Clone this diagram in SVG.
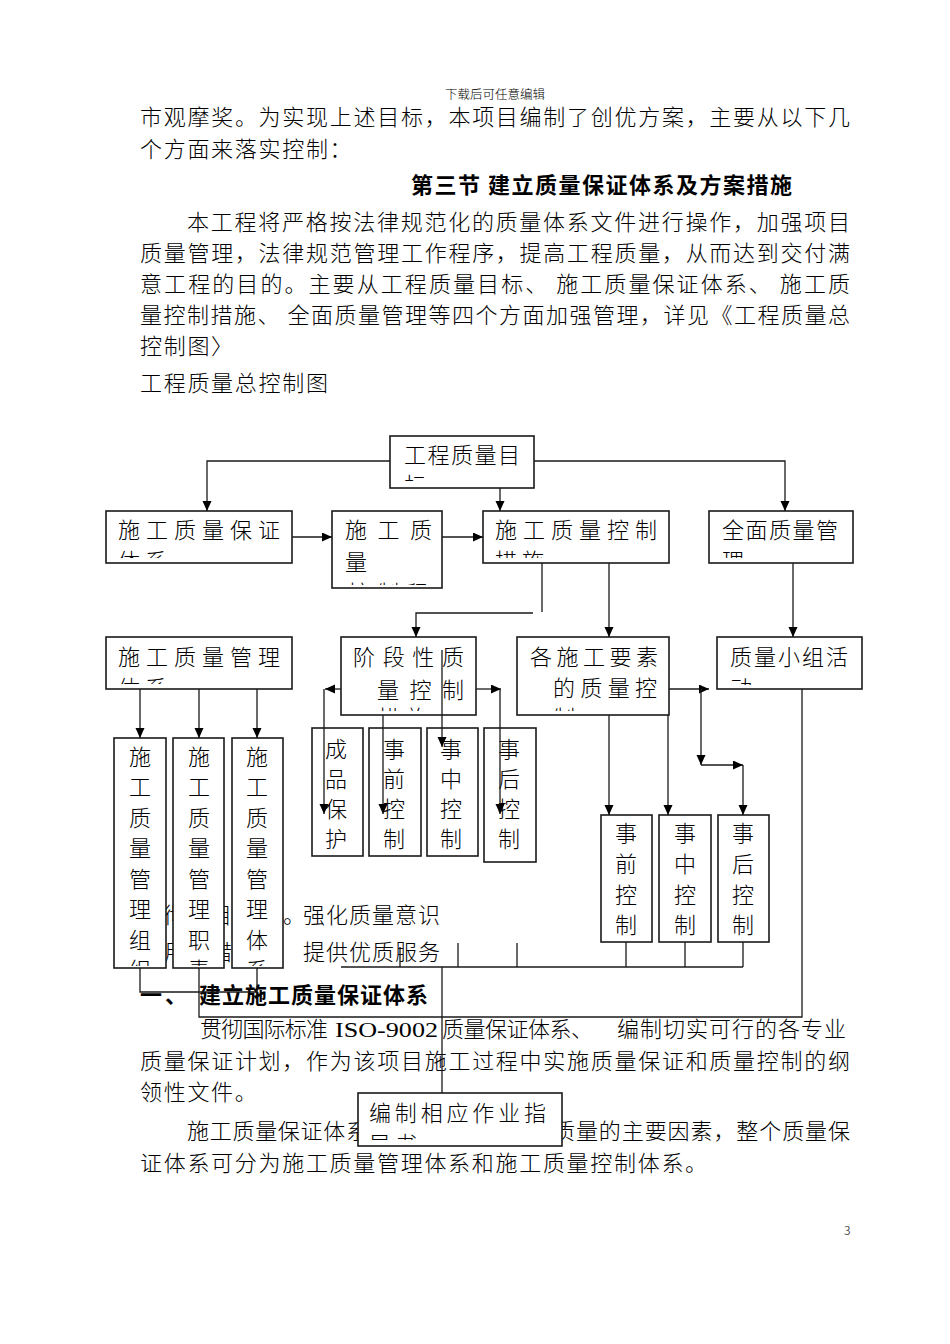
<svg xmlns="http://www.w3.org/2000/svg" width="950" height="1344" viewBox="0 0 950 1344">
<style>
.t{font-family:'Noto Sans CJK SC','Noto Sans CJK JP',sans-serif;font-size:22px;font-weight:300;fill:#000}
.b{font-weight:bold}
.ls{letter-spacing:1.7px}
.sm{font-size:12px}
.box{fill:#fff;stroke:#1a1a1a;stroke-width:1.6}
.ln{fill:none;stroke:#1a1a1a;stroke-width:1.3}
.ar{marker-end:url(#ah)}
.v{text-anchor:middle}
</style>
<defs>
<marker id="ah" markerUnits="userSpaceOnUse" markerWidth="11" markerHeight="10" refX="10" refY="4.5" orient="auto">
<path d="M0,0 L10,4.5 L0,9 z" fill="#000"/>
</marker>
<clipPath id="c_goal"><rect x="390" y="436" width="144" height="45"/></clipPath>
<clipPath id="c_guar"><rect x="106" y="511" width="186" height="47"/></clipPath>
<clipPath id="c_prog"><rect x="332" y="511" width="110" height="74"/></clipPath>
<clipPath id="c_ctrl"><rect x="483" y="511" width="186" height="47"/></clipPath>
<clipPath id="c_all"><rect x="709" y="511" width="144" height="47"/></clipPath>
<clipPath id="c_mgmt"><rect x="106" y="637" width="186" height="47"/></clipPath>
<clipPath id="c_stage"><rect x="341" y="637" width="135" height="74"/></clipPath>
<clipPath id="c_elem"><rect x="517" y="637" width="152" height="74"/></clipPath>
<clipPath id="c_qc"><rect x="717" y="637" width="145" height="48"/></clipPath>
<clipPath id="c_tall"><rect x="110" y="738" width="180" height="228"/></clipPath>
<clipPath id="c_guide"><rect x="358" y="1093" width="204" height="47"/></clipPath>
</defs>
<rect width="950" height="1344" fill="#fff"/>

<g id="page-text">
<text class="t sm" x="445" y="99" textLength="100" lengthAdjust="spacingAndGlyphs">下载后可任意编辑</text>
<text class="t" x="140" y="125" textLength="710" lengthAdjust="spacing">市观摩奖。为实现上述目标，本项目编制了创优方案，主要从以下几</text>
<text class="t ls" x="140" y="157">个方面来落实控制：</text>
<text class="t b" x="411" y="193" textLength="381" lengthAdjust="spacing">第三节 建立质量保证体系及方案措施</text>
<text class="t" x="187" y="230" textLength="663" lengthAdjust="spacing">本工程将严格按法律规范化的质量体系文件进行操作，加强项目</text>
<text class="t" x="140" y="261" textLength="710" lengthAdjust="spacing">质量管理，法律规范管理工作程序，提高工程质量，从而达到交付满</text>
<text class="t" x="140" y="292" textLength="710" lengthAdjust="spacing">意工程的目的。主要从工程质量目标、 施工质量保证体系、 施工质</text>
<text class="t" x="140" y="323" textLength="710" lengthAdjust="spacing">量控制措施、 全面质量管理等四个方面加强管理，详见《工程质量总</text>
<text class="t ls" x="140" y="354">控制图〉</text>
<text class="t ls" x="140" y="391">工程质量总控制图</text>
<text class="t" y="923"><tspan x="164">彻</tspan><tspan x="210">目</tspan><tspan x="283">。</tspan><tspan x="303" textLength="137" lengthAdjust="spacing">强化质量意识</tspan></text>
<text class="t" y="960"><tspan x="164">用</tspan><tspan x="210">措</tspan><tspan x="303" textLength="137" lengthAdjust="spacing">提供优质服务</tspan></text>
<text class="t b" x="140" y="1003" letter-spacing="3">一、</text>
<text class="t b" x="199" y="1003" textLength="229" lengthAdjust="spacing">建立施工质量保证体系</text>
<text class="t" y="1037"><tspan x="200" textLength="128" lengthAdjust="spacing">贯彻国际标准</tspan><tspan x="335" font-family="'Liberation Serif',serif" textLength="103" lengthAdjust="spacingAndGlyphs">ISO-9002</tspan><tspan x="442" textLength="151" lengthAdjust="spacing">质量保证体系、</tspan><tspan x="617" textLength="229" lengthAdjust="spacing">编制切实可行的各专业</tspan></text>
<text class="t" x="140" y="1069" textLength="710" lengthAdjust="spacing">质量保证计划，作为该项目施工过程中实施质量保证和质量控制的纲</text>
<text class="t ls" x="140" y="1100">领性文件。</text>
<text class="t" y="1139"><tspan x="187" textLength="181" lengthAdjust="spacing">施工质量保证体系</tspan><tspan x="553" textLength="297" lengthAdjust="spacing">质量的主要因素，整个质量保</tspan></text>
<text class="t ls" x="140" y="1171">证体系可分为施工质量管理体系和施工质量控制体系。</text>
<text class="t sm" x="844" y="1235" font-family="'Liberation Sans',sans-serif">3</text>
</g>

<g id="node-goal">
<rect class="box" x="390" y="436" width="144" height="52"/>
<text class="t" x="404" y="463" textLength="116" lengthAdjust="spacing">工程质量目</text>
<text class="t" x="404" y="493" clip-path="url(#c_goal)">标</text>
</g>
<g id="node-guarantee">
<rect class="box" x="106" y="511" width="186" height="52"/>
<text class="t" x="118" y="538" textLength="162" lengthAdjust="spacing">施工质量保证</text>
<text class="t" x="118" y="569" letter-spacing="5" clip-path="url(#c_guar)">体系</text>
</g>
<g id="node-procedure">
<rect class="box" x="332" y="511" width="110" height="77"/>
<text class="t" x="345" y="538" textLength="87" lengthAdjust="spacing">施工质</text>
<text class="t" x="345" y="570">量</text>
<text class="t" x="348" y="601" textLength="80" lengthAdjust="spacing" clip-path="url(#c_prog)">控制程</text>
</g>
<g id="node-control">
<rect class="box" x="483" y="511" width="186" height="52"/>
<text class="t" x="495" y="538" textLength="162" lengthAdjust="spacing">施工质量控制</text>
<text class="t" x="495" y="569" letter-spacing="5" clip-path="url(#c_ctrl)">措施</text>
</g>
<g id="node-total">
<rect class="box" x="709" y="511" width="144" height="52"/>
<text class="t" x="722" y="538" textLength="116" lengthAdjust="spacing">全面质量管</text>
<text class="t" x="722" y="569" clip-path="url(#c_all)">理</text>
</g>
<g id="node-management">
<rect class="box" x="106" y="637" width="186" height="52"/>
<text class="t" x="118" y="665" textLength="162" lengthAdjust="spacing">施工质量管理</text>
<text class="t" x="118" y="696" letter-spacing="5" clip-path="url(#c_mgmt)">体系</text>
</g>
<g id="node-stage">
<rect class="box" x="341" y="637" width="135" height="78"/>
<text class="t" x="353" y="665" textLength="111" lengthAdjust="spacing">阶段性质</text>
<text class="t" x="377" y="698" textLength="87" lengthAdjust="spacing">量控制</text>
<text class="t" x="378" y="726" letter-spacing="6" clip-path="url(#c_stage)">措施</text>
</g>
<g id="node-elements">
<rect class="box" x="517" y="637" width="152" height="78"/>
<text class="t" x="530" y="665" textLength="128" lengthAdjust="spacing">各施工要素</text>
<text class="t" x="553" y="696" textLength="104" lengthAdjust="spacing">的质量控</text>
<text class="t" x="553" y="726" clip-path="url(#c_elem)">制</text>
</g>
<g id="node-qc">
<rect class="box" x="717" y="637" width="145" height="52"/>
<text class="t" x="730" y="665" textLength="118" lengthAdjust="spacing">质量小组活</text>
<text class="t" x="730" y="696" clip-path="url(#c_qc)">动</text>
</g>

<g id="node-org">
<rect class="box" x="114" y="738" width="52" height="230"/>
<g clip-path="url(#c_tall)"><text class="t v" x="140" y="765">施</text><text class="t v" x="140" y="795">工</text><text class="t v" x="140" y="826">质</text><text class="t v" x="140" y="856">量</text><text class="t v" x="140" y="887">管</text><text class="t v" x="140" y="917">理</text><text class="t v" x="140" y="948">组</text><text class="t v" x="140" y="978">织</text></g>
</g>
<g id="node-duty">
<rect class="box" x="173" y="738" width="51" height="230"/>
<g clip-path="url(#c_tall)"><text class="t v" x="199" y="765">施</text><text class="t v" x="199" y="795">工</text><text class="t v" x="199" y="826">质</text><text class="t v" x="199" y="856">量</text><text class="t v" x="199" y="887">管</text><text class="t v" x="199" y="917">理</text><text class="t v" x="199" y="948">职</text><text class="t v" x="199" y="978">责</text></g>
</g>
<g id="node-system">
<rect class="box" x="232" y="738" width="51" height="230"/>
<g clip-path="url(#c_tall)"><text class="t v" x="257" y="765">施</text><text class="t v" x="257" y="795">工</text><text class="t v" x="257" y="826">质</text><text class="t v" x="257" y="856">量</text><text class="t v" x="257" y="887">管</text><text class="t v" x="257" y="917">理</text><text class="t v" x="257" y="948">体</text><text class="t v" x="257" y="978">系</text></g>
</g>

<g id="node-protect">
<rect class="box" x="312" y="728" width="51" height="128"/>
<text class="t v" x="336" y="757">成</text><text class="t v" x="336" y="787">品</text><text class="t v" x="336" y="817">保</text><text class="t v" x="336" y="847">护</text>
</g>
<g id="node-stage-pre">
<rect class="box" x="369" y="728" width="52" height="128"/>
<text class="t v" x="394" y="757">事</text><text class="t v" x="394" y="787">前</text><text class="t v" x="394" y="817">控</text><text class="t v" x="394" y="847">制</text>
</g>
<g id="node-stage-mid">
<rect class="box" x="427" y="728" width="51" height="128"/>
<text class="t v" x="451" y="757">事</text><text class="t v" x="451" y="787">中</text><text class="t v" x="451" y="817">控</text><text class="t v" x="451" y="847">制</text>
</g>
<g id="node-stage-post">
<rect class="box" x="484" y="728" width="52" height="134"/>
<text class="t v" x="509" y="757">事</text><text class="t v" x="509" y="787">后</text><text class="t v" x="509" y="817">控</text><text class="t v" x="509" y="847">制</text>
</g>

<g id="node-elem-pre">
<rect class="box" x="601" y="815" width="51" height="127"/>
<text class="t v" x="626" y="841">事</text><text class="t v" x="626" y="872">前</text><text class="t v" x="626" y="903">控</text><text class="t v" x="626" y="933">制</text>
</g>
<g id="node-elem-mid">
<rect class="box" x="659" y="815" width="52" height="127"/>
<text class="t v" x="685" y="841">事</text><text class="t v" x="685" y="872">中</text><text class="t v" x="685" y="903">控</text><text class="t v" x="685" y="933">制</text>
</g>
<g id="node-elem-post">
<rect class="box" x="718" y="815" width="51" height="127"/>
<text class="t v" x="743" y="841">事</text><text class="t v" x="743" y="872">后</text><text class="t v" x="743" y="903">控</text><text class="t v" x="743" y="933">制</text>
</g>

<g id="node-guide">
<rect class="box" x="358" y="1093" width="204" height="53"/>
<text class="t" x="369" y="1121" textLength="177" lengthAdjust="spacing">编制相应作业指</text>
<text class="t" x="369" y="1152" letter-spacing="4" clip-path="url(#c_guide)">导书</text>
</g>

<g id="connectors">
<path class="ln ar" d="M390,461 H207 V511"/>
<path class="ln ar" d="M500,488 V511"/>
<path class="ln ar" d="M534,461 H785 V511"/>
<path class="ln ar" d="M292,537 H332"/>
<path class="ln ar" d="M442,537 H483"/>
<path class="ln" d="M542,563 V612"/>
<path class="ln ar" d="M533,613 H416 V637"/>
<path class="ln ar" d="M609,563 V637"/>
<path class="ln ar" d="M793,563 V637"/>
<path class="ln ar" d="M140,689 V738"/>
<path class="ln ar" d="M199,689 V738"/>
<path class="ln ar" d="M257,689 V738"/>
<path class="ln ar" d="M341,689 H325"/>
<path class="ln ar" d="M324,689 V814"/>
<path class="ln ar" d="M383,715 V814"/>
<path class="ln ar" d="M442,650 V747"/>
<path class="ln ar" d="M476,689 H501"/>
<path class="ln ar" d="M500,689 V814"/>
<path class="ln ar" d="M609,715 V815"/>
<path class="ln ar" d="M668,715 V815"/>
<path class="ln ar" d="M669,689 H709"/>
<path class="ln ar" d="M701,689 V765"/>
<path class="ln ar" d="M701,765 H743"/>
<path class="ln ar" d="M743,765 V815"/>
<path class="ln" d="M802,689 V1017 H199 V968"/>
<path class="ln" d="M140,968 V992 H257 V968"/>
<path class="ln" d="M626,942 V967 M685,942 V967 M743,942 V967"/>
<path class="ln" d="M341,967 H743"/>
<path class="ln" d="M400,947 V967 M458,943 V967 M517,943 V967"/>
<path class="ln" d="M442,967 V1093"/>
</g>
</svg>
